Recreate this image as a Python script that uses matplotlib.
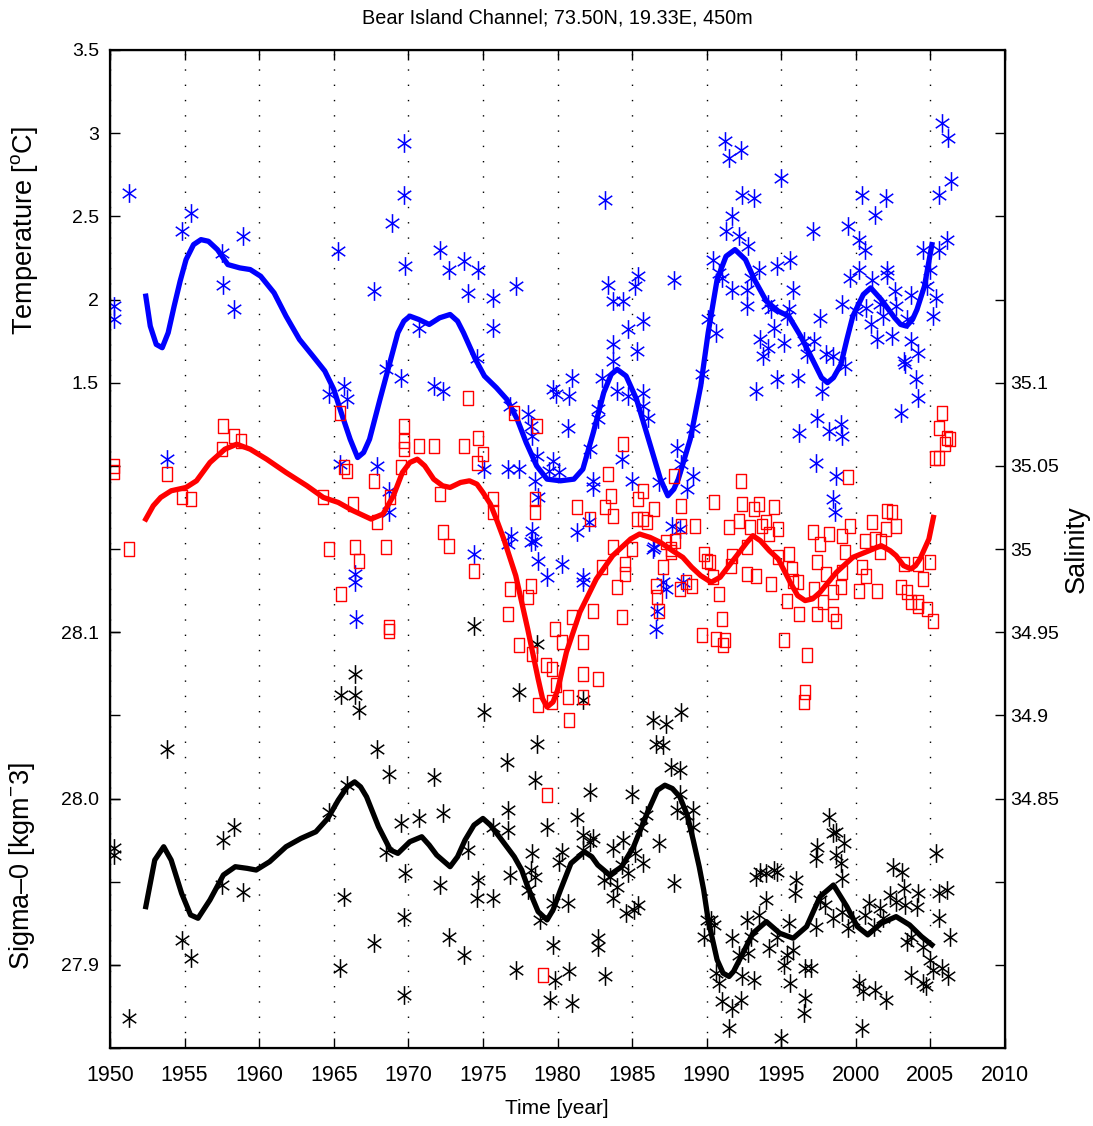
import numpy as np
import matplotlib
matplotlib.use('Agg')
import matplotlib.pyplot as plt
from matplotlib.path import Path

# temperature samples (blue stars)
t_year = [1950.3, 1950.3, 1951.3, 1953.8, 1954.8, 1955.4, 1957.5, 1957.6, 1958.3, 1958.9,
          1964.7, 1965.3, 1965.4, 1965.7, 1965.9, 1966.4, 1966.4, 1966.5, 1967.7, 1967.9,
          1968.5, 1968.7, 1968.7, 1968.9, 1969.5, 1969.7, 1969.7, 1969.8, 1970.7, 1971.7,
          1972.1, 1972.3, 1972.7, 1973.7, 1974.0, 1974.4, 1974.6, 1974.7, 1975.1, 1975.7,
          1975.7, 1976.7, 1976.7, 1976.8, 1976.9, 1977.2, 1977.4, 1978.0, 1978.2, 1978.2,
          1978.3, 1978.3, 1978.5, 1978.5, 1978.6, 1978.7, 1978.7, 1979.3, 1979.4, 1979.7,
          1979.7, 1979.9, 1980.1, 1980.3, 1980.7, 1980.8, 1981.0, 1981.3, 1981.7, 1981.7,
          1982.1, 1982.2, 1982.4, 1982.4, 1982.7, 1982.7, 1983.0, 1983.2, 1983.4, 1983.7,
          1983.7, 1983.7, 1984.0, 1984.3, 1984.4, 1984.7, 1984.7, 1985.0, 1985.2, 1985.3,
          1985.4, 1985.7, 1985.7, 1985.7, 1986.1, 1986.4, 1986.5, 1986.6, 1986.7, 1986.8,
          1987.1, 1987.3, 1987.7, 1987.8, 1988.0, 1988.2, 1988.3, 1988.4, 1988.7, 1989.1,
          1989.1, 1989.7, 1990.1, 1990.4, 1990.6, 1990.8, 1991.0, 1991.2, 1991.3, 1991.5,
          1991.7, 1991.7, 1992.2, 1992.3, 1992.4, 1992.7, 1992.7, 1992.8, 1993.0, 1993.2,
          1993.3, 1993.5, 1993.6, 1993.8, 1994.1, 1994.1, 1994.3, 1994.5, 1994.7, 1994.7,
          1995.0, 1995.2, 1995.4, 1995.5, 1995.6, 1995.8, 1996.1, 1996.2, 1996.5, 1996.7,
          1997.1, 1997.2, 1997.3, 1997.4, 1997.6, 1997.7, 1998.0, 1998.2, 1998.5, 1998.5,
          1998.6, 1998.7, 1999.0, 1999.1, 1999.1, 1999.3, 1999.5, 1999.6, 2000.0, 2000.2,
          2000.2, 2000.4, 2000.6, 2000.7, 2001.0, 2001.1, 2001.3, 2001.4, 2001.6, 2001.8,
          2002.0, 2002.1, 2002.1, 2002.4, 2002.6, 2002.7, 2003.0, 2003.2, 2003.3, 2003.4,
          2003.7, 2003.7, 2004.0, 2004.2, 2004.2, 2004.5, 2004.8, 2005.0, 2005.2, 2005.4,
          2005.6, 2005.6, 2005.8, 2006.1, 2006.2, 2006.4]
t_val = [1.96, 1.88, 2.64, 1.04, 2.41, 2.52, 2.28, 2.09, 1.94, 2.38,
         1.43, 2.29, 1.01, 1.48, 1.40, 0.35, 0.30, 0.08, 2.05, 1.00,
         1.58, 0.85, 0.72, 2.46, 1.53, 2.94, 2.63, 2.20, 1.83, 1.48,
         2.30, 1.45, 2.18, 2.23, 2.04, 0.47, 1.65, 2.18, 0.98, 2.01,
         1.83, 0.98, 0.53, 1.36, 0.58, 2.08, 0.98, 1.31, 1.24, 0.54,
         1.18, 0.61, 0.91, 0.55, 1.06, 0.81, 0.43, 0.33, 0.97, 1.46,
         1.03, 1.43, 0.96, 0.41, 1.23, 1.42, 1.53, 0.60, 0.33, 0.30,
         0.66, 1.10, 0.91, 0.87, 1.34, 1.28, 1.53, 2.60, 2.09, 1.99,
         1.73, 1.63, 1.45, 1.04, 1.99, 1.82, 1.42, 0.91, 2.08, 1.69,
         2.14, 1.87, 1.44, 1.36, 1.29, 0.50, 0.51, 0.02, 0.13, 0.90,
         0.30, 0.26, 0.64, 2.12, 1.11, 0.62, 1.01, 0.30, 0.86, 0.94,
         1.23, 1.55, 1.88, 2.24, 1.80, 2.16, 2.13, 2.95, 2.41, 2.85,
         2.50, 2.06, 2.38, 2.90, 2.63, 2.06, 1.96, 2.32, 2.13, 2.61,
         1.45, 2.18, 1.76, 1.66, 1.97, 1.71, 1.94, 1.83, 2.20, 1.52,
         2.73, 1.74, 1.90, 1.94, 2.24, 2.06, 1.53, 1.20, 1.75, 1.67,
         2.41, 1.75, 1.02, 1.29, 1.89, 1.45, 1.67, 1.21, 1.66, 0.80,
         0.72, 0.94, 1.25, 1.97, 1.18, 1.60, 2.44, 2.13, 1.93, 2.36,
         2.18, 2.63, 2.30, 1.95, 1.85, 2.12, 2.51, 1.76, 1.97, 1.90,
         2.61, 2.18, 2.15, 1.78, 2.05, 1.96, 1.32, 1.63, 1.61, 1.88,
         2.03, 1.75, 1.52, 1.68, 1.41, 2.30, 2.08, 2.18, 1.90, 2.01,
         2.30, 2.63, 3.06, 2.36, 2.97, 2.71]

# salinity samples (red squares)
s_year = [1950.3, 1950.3, 1951.3, 1953.8, 1954.8, 1955.4, 1957.5, 1957.6, 1958.3, 1958.8,
          1964.3, 1964.7, 1965.4, 1965.5, 1965.7, 1965.9, 1966.3, 1966.4, 1966.7, 1967.7,
          1967.9, 1968.5, 1968.7, 1968.7, 1968.8, 1969.5, 1969.7, 1969.7, 1969.7, 1970.7,
          1971.7, 1972.1, 1972.3, 1972.7, 1973.7, 1974.0, 1974.4, 1974.6, 1974.7, 1975.0,
          1975.7, 1975.7, 1976.7, 1976.8, 1977.1, 1977.4, 1978.0, 1978.2, 1978.3, 1978.5,
          1978.5, 1978.6, 1978.7, 1979.0, 1979.2, 1979.3, 1979.6, 1979.6, 1979.8, 1979.9,
          1980.3, 1980.7, 1980.8, 1981.0, 1981.3, 1981.7, 1981.7, 1981.7, 1982.2, 1982.4,
          1982.7, 1983.0, 1983.2, 1983.4, 1983.6, 1983.7, 1983.7, 1984.0, 1984.3, 1984.4,
          1984.5, 1984.5, 1985.0, 1985.3, 1985.4, 1985.7, 1985.7, 1986.0, 1986.5, 1986.6,
          1986.7, 1986.8, 1987.1, 1987.3, 1987.6, 1987.6, 1987.8, 1987.9, 1988.2, 1988.3,
          1988.3, 1988.6, 1989.0, 1989.2, 1989.7, 1989.8, 1990.0, 1990.2, 1990.4, 1990.5,
          1990.6, 1990.8, 1991.0, 1991.1, 1991.2, 1991.5, 1991.6, 1991.7, 1992.2, 1992.3,
          1992.4, 1992.7, 1992.7, 1992.9, 1993.2, 1993.3, 1993.5, 1993.7, 1994.0, 1994.2,
          1994.3, 1994.5, 1994.8, 1994.8, 1995.2, 1995.4, 1995.5, 1995.7, 1995.8, 1996.1,
          1996.2, 1996.5, 1996.6, 1996.7, 1997.1, 1997.2, 1997.4, 1997.4, 1997.6, 1997.8,
          1998.0, 1998.2, 1998.5, 1998.5, 1998.7, 1999.0, 1999.1, 1999.1, 1999.3, 1999.5,
          1999.6, 2000.2, 2000.4, 2000.6, 2000.7, 2001.1, 2001.3, 2001.4, 2001.6, 2001.7,
          2002.0, 2002.1, 2002.4, 2002.7, 2003.0, 2003.2, 2003.4, 2003.7, 2004.2, 2004.2,
          2004.2, 2004.5, 2004.8, 2005.0, 2005.2, 2005.3, 2005.6, 2005.6, 2005.8, 2006.0,
          2006.1, 2006.3]
s_val = [35.050, 35.046, 35.000, 35.045, 35.031, 35.030, 35.060, 35.074, 35.068, 35.065,
         35.031, 35.000, 35.082, 34.973, 35.049, 35.047, 35.027, 35.001, 34.993, 35.041,
         35.016, 35.001, 34.953, 34.951, 35.031, 35.049, 35.074, 35.065, 35.060, 35.062,
         35.062, 35.033, 35.010, 35.002, 35.062, 35.091, 34.987, 35.052, 35.067, 35.057,
         35.030, 35.022, 34.961, 34.976, 35.082, 34.942, 34.971, 34.978, 34.937, 35.030,
         35.022, 35.074, 34.906, 34.744, 34.930, 34.852, 34.928, 34.908, 34.952, 34.918,
         34.944, 34.911, 34.897, 34.959, 35.025, 34.944, 34.925, 34.911, 35.018, 34.963,
         34.922, 34.989, 35.025, 35.045, 35.032, 35.020, 35.001, 34.977, 34.959, 35.063,
         34.991, 34.985, 35.000, 35.018, 35.030, 35.035, 35.018, 35.016, 35.024, 34.978,
         34.971, 34.963, 34.989, 35.004, 35.000, 34.998, 35.044, 35.005, 34.976, 35.026,
         35.014, 34.980, 34.978, 35.014, 34.948, 34.997, 34.993, 34.992, 34.983, 35.028,
         34.946, 34.973, 34.958, 34.942, 34.945, 35.013, 34.990, 34.996, 35.017, 35.041,
         35.027, 35.001, 34.985, 35.013, 35.024, 34.984, 35.027, 35.014, 35.016, 35.009,
         34.979, 35.025, 35.012, 34.995, 34.945, 34.969, 34.997, 34.988, 34.981, 34.980,
         34.961, 34.908, 34.914, 34.936, 35.010, 34.976, 34.992, 34.961, 35.003, 34.968,
         34.985, 35.009, 34.974, 34.961, 34.957, 34.977, 35.008, 34.986, 34.998, 35.043,
         35.014, 34.975, 34.989, 35.005, 34.984, 35.016, 35.006, 34.975, 34.998, 35.005,
         35.012, 35.023, 35.022, 35.014, 34.977, 34.991, 34.974, 34.968, 34.991, 34.968,
         34.966, 34.982, 34.964, 34.992, 34.957, 35.055, 35.055, 35.073, 35.082, 35.063,
         35.067, 35.066]

# sigma-0 samples (black stars)
d_year = [1950.3, 1950.3, 1951.3, 1953.8, 1954.8, 1955.4, 1957.5, 1957.6, 1958.3, 1958.9,
          1964.7, 1965.4, 1965.5, 1965.7, 1965.9, 1966.4, 1966.4, 1966.7, 1967.7, 1967.9,
          1968.5, 1968.7, 1969.5, 1969.7, 1969.7, 1969.8, 1970.7, 1971.7, 1972.1, 1972.3,
          1972.7, 1973.7, 1974.0, 1974.4, 1974.6, 1974.7, 1975.1, 1975.7, 1975.7, 1976.6,
          1976.7, 1976.7, 1976.8, 1977.2, 1977.4, 1978.0, 1978.2, 1978.3, 1978.5, 1978.5,
          1978.6, 1978.6, 1978.8, 1979.3, 1979.5, 1979.7, 1979.7, 1979.8, 1980.1, 1980.3,
          1980.7, 1980.8, 1981.0, 1981.3, 1981.7, 1981.7, 1981.7, 1982.2, 1982.2, 1982.4,
          1982.7, 1982.7, 1983.1, 1983.2, 1983.5, 1983.7, 1983.7, 1984.0, 1984.3, 1984.4,
          1984.6, 1984.7, 1985.0, 1985.1, 1985.2, 1985.4, 1985.6, 1985.7, 1985.9, 1986.4,
          1986.6, 1986.8, 1987.1, 1987.3, 1987.6, 1987.8, 1988.0, 1988.2, 1988.2, 1988.3,
          1988.6, 1989.1, 1989.1, 1989.8, 1990.0, 1990.3, 1990.5, 1990.6, 1990.8, 1991.0,
          1991.5, 1991.7, 1991.7, 1992.2, 1992.3, 1992.4, 1992.7, 1992.8, 1993.0, 1993.2,
          1993.3, 1993.5, 1993.6, 1994.0, 1994.0, 1994.2, 1994.5, 1994.7, 1994.7, 1995.0,
          1995.2, 1995.4, 1995.5, 1995.6, 1995.8, 1995.9, 1996.0, 1996.5, 1996.6, 1996.6,
          1997.0, 1997.3, 1997.3, 1997.4, 1997.6, 1997.9, 1998.2, 1998.5, 1998.5, 1998.7,
          1998.7, 1999.0, 1999.1, 1999.1, 1999.2, 1999.5, 1999.8, 2000.2, 2000.4, 2000.5,
          2000.6, 2000.9, 2001.2, 2001.3, 2001.6, 2001.8, 2002.0, 2002.3, 2002.5, 2002.7,
          2003.1, 2003.2, 2003.3, 2003.4, 2003.7, 2003.7, 2004.1, 2004.2, 2004.5, 2004.5,
          2004.7, 2005.0, 2005.2, 2005.4, 2005.6, 2005.6, 2005.8, 2006.1, 2006.2, 2006.3]
d_val = [27.970, 27.966, 27.868, 28.030, 27.915, 27.904, 27.948, 27.975, 27.983, 27.944,
         27.992, 27.898, 28.062, 27.941, 28.008, 28.075, 28.062, 28.053, 27.913, 28.030,
         27.968, 28.015, 27.985, 27.929, 27.882, 27.955, 27.988, 28.013, 27.948, 27.991,
         27.917, 27.906, 27.969, 28.104, 27.940, 27.951, 28.052, 27.983, 27.940, 28.022,
         27.993, 27.981, 27.954, 27.897, 28.064, 27.945, 27.957, 27.967, 28.011, 27.953,
         28.093, 28.033, 27.927, 27.983, 27.879, 27.937, 27.912, 27.891, 27.962, 27.968,
         27.937, 27.896, 27.877, 27.989, 28.059, 27.978, 27.969, 28.004, 27.974, 27.976,
         27.916, 27.911, 27.951, 27.893, 27.953, 27.970, 27.940, 27.947, 27.960, 27.975,
         27.931, 27.955, 28.003, 27.933, 27.967, 27.936, 27.983, 27.961, 27.990, 28.047,
         28.033, 27.973, 28.032, 28.045, 28.019, 27.949, 27.993, 28.017, 28.003, 28.052,
         27.990, 27.993, 27.983, 27.917, 27.927, 27.927, 27.924, 27.895, 27.889, 27.878,
         27.862, 27.916, 27.874, 27.906, 27.879, 27.893, 27.927, 27.907, 27.917, 27.891,
         27.953, 27.930, 27.956, 27.955, 27.939, 27.910, 27.957, 27.956, 27.917, 27.856,
         27.900, 27.906, 27.925, 27.889, 27.909, 27.943, 27.951, 27.871, 27.898, 27.880,
         27.898, 27.964, 27.923, 27.971, 27.939, 27.936, 27.989, 27.979, 27.928, 27.980,
         27.966, 27.961, 27.952, 27.932, 27.973, 27.922, 27.927, 27.889, 27.862, 27.884,
         27.930, 27.937, 27.923, 27.885, 27.934, 27.928, 27.879, 27.942, 27.959, 27.938,
         27.956, 27.946, 27.936, 27.914, 27.917, 27.894, 27.935, 27.943, 27.911, 27.889,
         27.887, 27.903, 27.897, 27.967, 27.943, 27.928, 27.898, 27.945, 27.893, 27.917]

# smoothed curves
tc_year = [1952.4, 1952.7, 1953.1, 1953.5, 1953.9, 1954.3, 1954.7, 1955.1, 1955.6, 1956.1,
           1956.6, 1957.2, 1957.9, 1958.7, 1959.4, 1960.1, 1961.0, 1961.8, 1962.7, 1963.6,
           1964.4, 1965.0, 1965.5, 1966.1, 1966.6, 1967.0, 1967.4, 1968.1, 1968.7, 1969.3,
           1969.7, 1970.1, 1970.7, 1971.4, 1972.1, 1972.8, 1973.3, 1973.7, 1974.5, 1975.1,
           1975.9, 1976.6, 1977.3, 1977.9, 1978.6, 1979.3, 1980.2, 1981.1, 1981.7, 1982.4,
           1983.1, 1983.6, 1984.0, 1984.6, 1985.3, 1986.1, 1986.9, 1987.4, 1987.8, 1988.1,
           1988.9, 1989.6, 1990.1, 1990.7, 1991.3, 1991.9, 1992.6, 1993.2, 1994.0, 1994.8,
           1995.5, 1996.3, 1997.2, 1997.7, 1998.1, 1998.5, 1999.0, 1999.4, 1999.8, 2000.5,
           2001.0, 2001.7, 2002.6, 2003.0, 2003.4, 2003.8, 2004.1, 2004.6, 2005.1]
tc_val = [2.02, 1.84, 1.73, 1.71, 1.80, 1.96, 2.11, 2.24, 2.33, 2.36,
          2.35, 2.30, 2.21, 2.19, 2.18, 2.14, 2.04, 1.90, 1.76, 1.66,
          1.57, 1.46, 1.32, 1.16, 1.05, 1.08, 1.16, 1.40, 1.60, 1.80,
          1.87, 1.90, 1.88, 1.85, 1.89, 1.91, 1.87, 1.80, 1.64, 1.54,
          1.47, 1.40, 1.28, 1.14, 1.00, 0.92, 0.91, 0.92, 0.98, 1.20,
          1.44, 1.55, 1.58, 1.54, 1.40, 1.16, 0.92, 0.82, 0.86, 0.92,
          1.16, 1.48, 1.80, 2.12, 2.26, 2.30, 2.24, 2.12, 1.99, 1.93,
          1.90, 1.78, 1.62, 1.53, 1.50, 1.53, 1.61, 1.76, 1.90, 2.03,
          2.07, 2.00, 1.89, 1.85, 1.84, 1.88, 1.94, 2.08, 2.33]

sc_year = [1952.4, 1952.9, 1953.4, 1954.1, 1955.1, 1955.8, 1956.7, 1957.7, 1958.5, 1959.4,
           1960.5, 1961.8, 1963.2, 1964.3, 1965.3, 1966.3, 1967.5, 1968.3, 1969.0, 1969.6,
           1970.1, 1970.6, 1971.1, 1971.7, 1972.3, 1972.8, 1973.5, 1974.1, 1974.6, 1975.0,
           1975.5, 1975.9, 1976.4, 1977.2, 1978.0, 1978.7, 1979.0, 1979.3, 1979.7, 1980.0,
           1980.6, 1981.5, 1982.6, 1983.7, 1984.9, 1985.5, 1986.2, 1986.9, 1987.7, 1988.4,
           1989.0, 1989.6, 1990.3, 1990.9, 1991.5, 1992.1, 1992.7, 1993.1, 1993.6, 1994.2,
           1994.8, 1995.6, 1996.1, 1996.6, 1997.1, 1997.6, 1998.7, 1999.8, 2000.9, 2001.7,
           2002.3, 2002.7, 2003.2, 2003.7, 2004.0, 2004.3, 2004.9, 2005.2]
sc_val = [35.018, 35.026, 35.031, 35.035, 35.037, 35.041, 35.052, 35.060, 35.063, 35.060,
          35.054, 35.046, 35.038, 35.031, 35.028, 35.023, 35.018, 35.021, 35.032, 35.046,
          35.052, 35.054, 35.050, 35.042, 35.038, 35.037, 35.040, 35.041, 35.039, 35.034,
          35.027, 35.018, 35.006, 34.984, 34.952, 34.922, 34.910, 34.905, 34.908, 34.915,
          34.938, 34.962, 34.982, 34.996, 35.006, 35.009, 35.007, 35.004, 34.999, 34.995,
          34.989, 34.984, 34.980, 34.983, 34.990, 34.997, 35.004, 35.008, 35.005, 34.999,
          34.994, 34.980, 34.972, 34.969, 34.970, 34.974, 34.986, 34.995, 34.999, 35.002,
          34.999, 34.996, 34.990, 34.988, 34.990, 34.994, 35.006, 35.019]

dc_year = [1952.4, 1953.0, 1953.6, 1954.1, 1954.8, 1955.4, 1955.9, 1956.7, 1957.6, 1958.4,
           1959.2, 1959.8, 1960.7, 1961.8, 1962.8, 1963.8, 1964.6, 1965.3, 1965.9, 1966.4,
           1966.8, 1967.2, 1967.6, 1968.0, 1968.8, 1969.3, 1970.1, 1970.9, 1971.4, 1971.9,
           1972.8, 1973.3, 1973.8, 1974.4, 1975.0, 1975.5, 1976.1, 1977.1, 1977.6, 1978.0,
           1978.7, 1979.3, 1979.7, 1980.2, 1980.9, 1981.8, 1982.3, 1982.7, 1983.5, 1984.3,
           1985.1, 1986.0, 1986.7, 1987.2, 1987.7, 1988.2, 1988.7, 1989.1, 1989.5, 1989.8,
           1990.1, 1990.7, 1991.1, 1991.5, 1991.8, 1992.2, 1993.1, 1994.0, 1994.9, 1995.8,
           1996.7, 1997.6, 1998.5, 1999.4, 2000.1, 2000.8, 2001.7, 2002.7, 2003.6, 2004.4,
           2005.1]
dc_val = [27.935, 27.963, 27.971, 27.963, 27.943, 27.930, 27.928, 27.939, 27.954, 27.959,
          27.958, 27.957, 27.962, 27.971, 27.976, 27.980, 27.988, 27.999, 28.007, 28.010,
          28.007, 28.001, 27.992, 27.983, 27.969, 27.967, 27.974, 27.977, 27.972, 27.966,
          27.959, 27.965, 27.975, 27.984, 27.988, 27.984, 27.977, 27.965, 27.957, 27.947,
          27.932, 27.927, 27.933, 27.945, 27.961, 27.968, 27.965, 27.960, 27.954, 27.959,
          27.971, 27.991, 28.005, 28.008, 28.006, 28.001, 27.990, 27.975, 27.959, 27.945,
          27.927, 27.903, 27.895, 27.893, 27.896, 27.903, 27.919, 27.926, 27.919, 27.916,
          27.923, 27.941, 27.948, 27.935, 27.923, 27.918, 27.925, 27.929, 27.924, 27.917,
          27.912]

x_ticks = list(range(1950, 2011, 5))

plt.rcParams['font.family'] = ['Liberation Sans', 'DejaVu Sans']
plt.rcParams['mathtext.fontset'] = 'custom'
plt.rcParams['mathtext.rm'] = 'Liberation Sans'
plt.rcParams['mathtext.it'] = 'Liberation Sans'

# matlab-like markers, a bit taller than wide
star = Path([(0, -1), (0, 1), (-0.72, -0.5), (0.72, 0.5), (-0.72, 0.5), (0.72, -0.5)],
            [Path.MOVETO, Path.LINETO] * 3)
box = Path([(-0.72, -1), (0.72, -1), (0.72, 1), (-0.72, 1), (-0.72, -1)],
           [Path.MOVETO] + [Path.LINETO] * 3 + [Path.CLOSEPOLY])

fig = plt.figure(figsize=(10.93, 11.26), dpi=100)
ax = fig.add_axes([110 / 1093, 1 - 1048 / 1126, 895 / 1093, 998 / 1126])

ax.plot(t_year, t_val, linestyle='none', marker=star, ms=13.5, mew=1.1, color='#0000ff')
ax.plot(tc_year, tc_val, color='#0000ff', lw=3.8)
ax.set_xlim(1950, 2010)
ax.set_ylim(-2.5, 3.5)
ax.set_xticks(x_ticks)
ax.set_xticklabels([str(x) for x in x_ticks], fontsize=15.5)
t_ticks = np.arange(-2.5, 3.51, 0.5)
ax.set_yticks(t_ticks)
ax.set_yticklabels(['%g' % v if v >= 1.5 else '' for v in t_ticks], fontsize=14)
ax.tick_params(direction='in', length=7, width=1, top=True, right=False, pad=8)
ax.tick_params(axis='x', pad=12)
ax.grid(axis='x', color='k', linestyle=(0, (1, 10)), linewidth=1)
for sp in ax.spines.values():
    sp.set_linewidth(1.6)

ax_sig = ax.twinx()
ax_sig.plot(d_year, d_val, linestyle='none', marker=star, ms=13.5, mew=1.1, color='k')
ax_sig.plot(dc_year, dc_val, color='k', lw=3.8)
ax_sig.set_ylim(27.85, 28.45)
ax_sig.yaxis.tick_left()
ax_sig.set_yticks([27.9, 28.0, 28.1])
ax_sig.set_yticklabels(['27.9', '28.0', '28.1'], fontsize=14)
ax_sig.tick_params(direction='in', length=7, width=1, pad=8)

ax_sal = ax.twinx()
ax_sal.plot(s_year, s_val, linestyle='none', marker=box, ms=9.5, mew=1.0,
            markerfacecolor='none', markeredgecolor='#ff0000')
ax_sal.plot(sc_year, sc_val, color='#ff0000', lw=3.8)
ax_sal.set_ylim(34.7, 35.3)
s_ticks = np.round(np.arange(34.75, 35.26, 0.05), 2)
ax_sal.set_yticks(s_ticks)
ax_sal.set_yticklabels(['%g' % v if 34.84 < v < 35.11 else '' for v in s_ticks], fontsize=14)
ax_sal.tick_params(direction='in', length=7, width=1, pad=4)
ax_sal.set_xlim(1950, 2010)

fig.text(557 / 1093, 1 - 18 / 1126, 'Bear Island Channel; 73.50N, 19.33E, 450m',
         ha='center', va='center', fontsize=14.3)
fig.text(557 / 1093, 1 - 1108 / 1126, 'Time [year]', ha='center', va='center',
         fontsize=15)
fig.text(25 / 1093, 1 - 230 / 1126, 'Temperature [$^{\\rm o}$C]', rotation=90,
         ha='center', va='center', fontsize=19.5)
fig.text(22 / 1093, 1 - 866 / 1126, 'Sigma\u20130 [kgm$^{-}$3]', rotation=90,
         ha='center', va='center', fontsize=19.5)
fig.text(1077 / 1093, 1 - 549 / 1126, 'Salinity', rotation=90,
         ha='center', va='center', fontsize=19.5)

fig.savefig('out.png', dpi=100)
